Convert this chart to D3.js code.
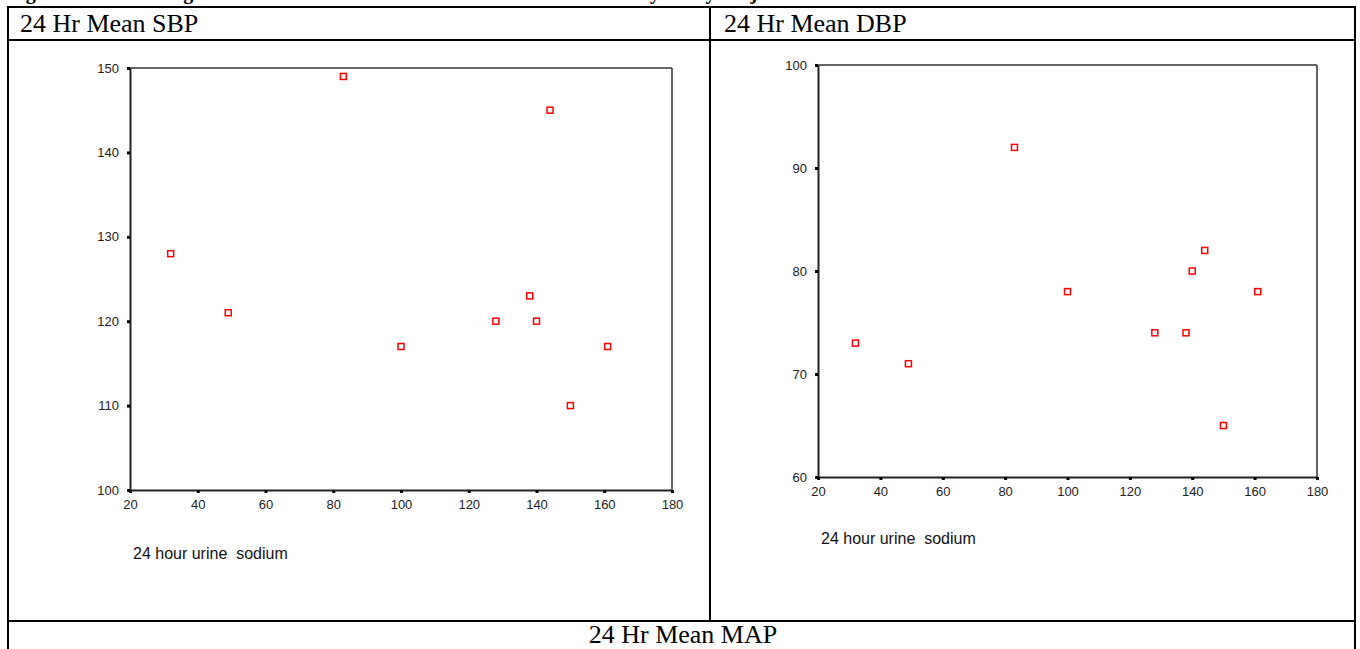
<!DOCTYPE html>
<html>
<head>
<meta charset="utf-8">
<script src="https://cdn.jsdelivr.net/npm/d3@7"></script>
<style>
  body { margin: 0; background: #fff; }
  svg { display: block; }
  .tick text { font-family: Arial, "Liberation Sans", sans-serif; font-size: 13px; fill: #222; }
  .xlabel { white-space: pre; }
</style>
</head>
<body>
<svg id="chart" width="1360" height="649"></svg>
<script>
// urine sodium per subject (same x in both panels)
const sodium = [32, 49, 83, 100, 128, 138, 140, 144, 150, 161]
const meanSBP = [128, 121, 149, 117, 120, 123, 120, 145, 110, 117]
const meanDBP = [73, 71, 92, 78, 74, 74, 80, 82, 65, 78]

const xTicks = [20, 40, 60, 80, 100, 120, 140, 160, 180]
const sbpTicks = [100, 110, 120, 130, 140, 150]
const dbpTicks = [60, 70, 80, 90, 100]

const svg = d3.select("#chart")

// the table the figure sits in
function drawTable() {
  const g = svg.append("g").attr("stroke", "#000").attr("stroke-width", 2).attr("fill", "none")
  g.append("rect").attr("x", 8).attr("y", 7).attr("width", 1347).attr("height", 660)
  g.append("line").attr("x1", 8).attr("x2", 1355).attr("y1", 40).attr("y2", 40)
  g.append("line").attr("x1", 8).attr("x2", 1355).attr("y1", 621).attr("y2", 621)
  g.append("line").attr("x1", 710).attr("x2", 710).attr("y1", 7).attr("y2", 621)

  const serif = "'Liberation Serif', 'Times New Roman', serif"
  // caption above, mostly cut off at the top edge
  svg.append("text").attr("x", 8).attr("y", -1)
    .attr("font-family", serif).attr("font-size", 20).attr("font-weight", "bold")
    .text("Figure 2: Scatter diagrams of 24 hour urine sodium and 24 hour ambulatory BP by subject")

  const titles = [["24 Hr Mean SBP", 20, 32, "start"], ["24 Hr Mean DBP", 724, 32, "start"], ["24 Hr Mean MAP", 683, 643, "middle"]]
  titles.forEach(t => {
    svg.append("text").attr("x", t[1]).attr("y", t[2]).attr("text-anchor", t[3])
      .attr("font-family", serif).attr("font-size", 26).attr("fill", "#000")
      .attr("transform", `translate(${t[1]},${t[2]}) scale(1,0.95) translate(${-t[1]},${-t[2]})`)
      .text(t[0])
  })
}

function scatter(opt) {
  const x = d3.scaleLinear().domain([20, 180]).range([opt.left, opt.right])
  const y = d3.scaleLinear().domain(opt.yDomain).range([opt.bottom, opt.top])
  const g = svg.append("g")

  // frame: thin top/right, heavier left/bottom
  g.append("line").attr("x1", opt.left).attr("x2", opt.right).attr("y1", opt.top).attr("y2", opt.top)
    .attr("stroke", "#333").attr("stroke-width", 1.5)
  g.append("line").attr("x1", opt.right).attr("x2", opt.right).attr("y1", opt.top).attr("y2", opt.bottom)
    .attr("stroke", "#333").attr("stroke-width", 1.5)

  const xAxis = g.append("g").attr("transform", `translate(0,${opt.bottom})`)
    .call(d3.axisBottom(x).tickValues(xTicks).tickSize(3).tickPadding(7).tickSizeOuter(0))
  const yAxis = g.append("g").attr("transform", `translate(${opt.left},0)`)
    .call(d3.axisLeft(y).tickValues(opt.yTicks).tickSize(3).tickPadding(8).tickSizeOuter(0))

  ;[xAxis, yAxis].forEach(a => {
    a.select(".domain").attr("stroke", "#222").attr("stroke-width", 2)
    a.selectAll(".tick line").attr("stroke", "#000").attr("stroke-width", 3)
  })

  g.selectAll("rect.pt").data(sodium).join("rect").attr("class", "pt")
    .attr("x", d => x(d) - 3).attr("y", (d, i) => y(opt.values[i]) - 3)
    .attr("width", 6).attr("height", 6)
    .attr("fill", "#fff").attr("stroke", "#f00").attr("stroke-width", 1.5)

  g.append("text").attr("class", "xlabel").attr("x", opt.left + 3).attr("y", opt.labelY)
    .attr("font-family", "Arial, 'Liberation Sans', sans-serif").attr("font-size", 16).attr("fill", "#111")
    .text("24 hour urine  sodium")
}

drawTable()
scatter({ left: 130, right: 672, top: 68, bottom: 490, yDomain: [100, 150], yTicks: sbpTicks, values: meanSBP, labelY: 559 })
scatter({ left: 818, right: 1317, top: 65, bottom: 477, yDomain: [60, 100], yTicks: dbpTicks, values: meanDBP, labelY: 544 })
</script>
</body>
</html>
